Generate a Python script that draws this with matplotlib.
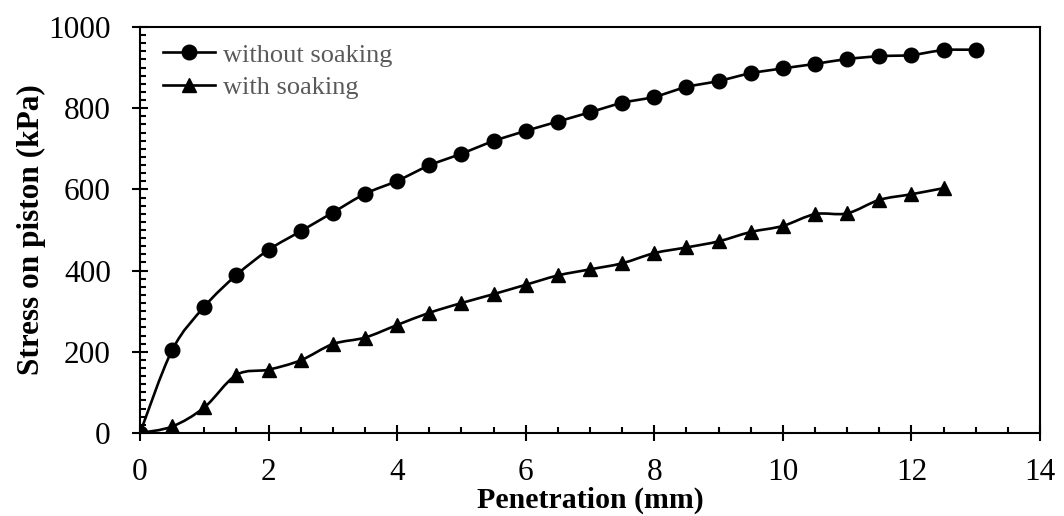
import numpy as np
import matplotlib.pyplot as plt
from matplotlib.path import Path
from matplotlib.patches import PathPatch
from matplotlib.lines import Line2D
from matplotlib.ticker import MultipleLocator

plt.rcParams['font.family'] = ['Liberation Serif', 'DejaVu Serif']

# penetration (mm)
pen_dry = [0, 0.5, 1, 1.5, 2, 2.5, 3, 3.5, 4, 4.5, 5, 5.5, 6, 6.5, 7, 7.5,
           8, 8.5, 9, 9.5, 10, 10.5, 11, 11.5, 12, 12.5, 13]
stress_dry = [0, 204, 311, 389, 451, 497, 543, 589, 621, 659, 688, 719, 744,
              767, 790, 813, 828, 852, 867, 886, 898, 909, 921, 928, 931, 943, 944]

pen_wet = [0, 0.5, 1, 1.5, 2, 2.5, 3, 3.5, 4, 4.5, 5, 5.5, 6, 6.5, 7, 7.5,
           8, 8.5, 9, 9.5, 10, 10.5, 11, 11.5, 12, 12.5]
stress_wet = [0, 16, 63, 143, 156, 179, 219, 235, 266, 296, 320, 342, 365,
              388, 403, 418, 443, 457, 472, 495, 510, 539, 541, 574, 588, 603]


def smooth_path(x, y):
    # Excel-style smoothed line: cubic Bezier through the points
    x = np.asarray(x, float)
    y = np.asarray(y, float)
    verts = [(x[0], y[0])]
    codes = [Path.MOVETO]
    n = len(x)
    for i in range(n - 1):
        x0, y0 = (x[i - 1], y[i - 1]) if i > 0 else (x[i], y[i])
        x3, y3 = (x[i + 2], y[i + 2]) if i + 2 < n else (x[i + 1], y[i + 1])
        c1 = (x[i] + (x[i + 1] - x0) / 6, y[i] + (y[i + 1] - y0) / 6)
        c2 = (x[i + 1] - (x3 - x[i]) / 6, y[i + 1] - (y3 - y[i]) / 6)
        verts += [c1, c2, (x[i + 1], y[i + 1])]
        codes += [Path.CURVE4] * 3
    return Path(verts, codes)


fig = plt.figure(figsize=(10.64, 5.16), dpi=100)
ax = fig.add_axes([0.1316, 0.1609, 0.8458, 0.7868])

for px, py, mk, ms in [(pen_dry, stress_dry, 'o', 10.5), (pen_wet, stress_wet, '^', 10)]:
    ax.add_patch(PathPatch(smooth_path(px, py), fill=False, edgecolor='black',
                           lw=1.9, zorder=2))
    ax.plot(px, py, linestyle='none', marker=mk, ms=ms, color='black', zorder=3)

ax.set_xlim(0, 14)
ax.set_ylim(0, 1000)
ax.xaxis.set_major_locator(MultipleLocator(2))
ax.xaxis.set_minor_locator(MultipleLocator(0.5))
ax.yaxis.set_major_locator(MultipleLocator(200))
ax.yaxis.set_minor_locator(MultipleLocator(20))
ax.tick_params(which='major', direction='inout', length=12, width=1.5,
               labelsize=22.5)
ax.tick_params(axis='x', which='major', pad=12)
ax.tick_params(axis='y', which='major', pad=15)
ax.tick_params(which='minor', direction='in', length=4.5, width=1.5)
for s in ax.spines.values():
    s.set_linewidth(1.5)

ax.set_xlabel('Penetration (mm)', fontsize=21.5, fontweight='bold', labelpad=0)
ax.set_ylabel('Stress on piston (kPa)', fontsize=22.5, fontweight='bold', labelpad=2)

handles = [Line2D([], [], color='black', lw=1.9, marker='o', ms=10.5),
           Line2D([], [], color='black', lw=1.9, marker='^', ms=10)]
ax.legend(handles, ['without soaking', 'with soaking'], loc='upper left',
          frameon=False, fontsize=19, labelcolor='#595959', handlelength=1.97,
          handletextpad=0.3, borderpad=0.4, borderaxespad=0.47,
          labelspacing=0.36, bbox_to_anchor=(0.0, 1.017))

fig.savefig('out.png', dpi=100)
